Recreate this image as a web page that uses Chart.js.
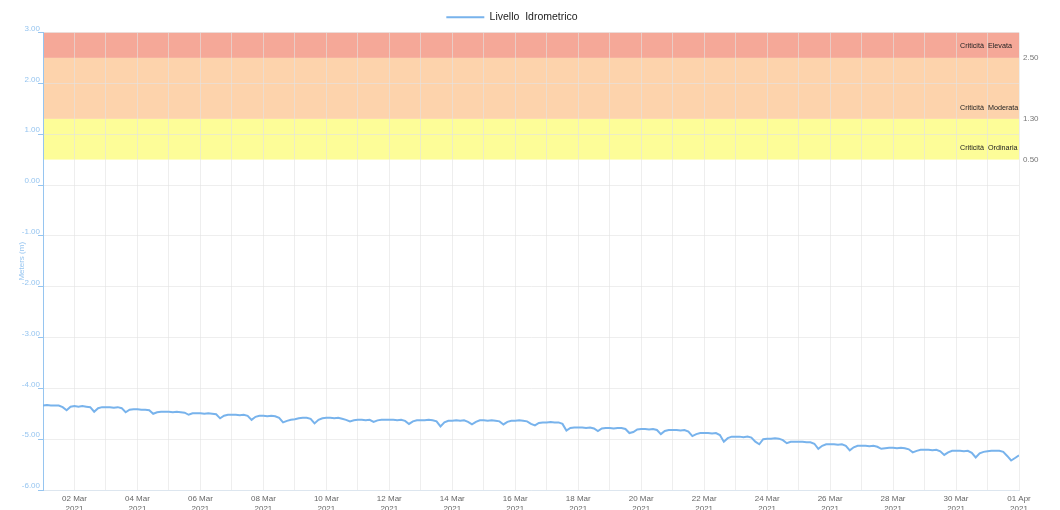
<!DOCTYPE html>
<html>
<head>
<meta charset="utf-8">
<script src="https://cdn.jsdelivr.net/npm/chart.js@4.4.0/dist/chart.umd.min.js"></script>
<style>
  html, body { margin: 0; padding: 0; background: #fff; overflow: hidden; }
  #wrap { width: 1060px; height: 516px; position: relative; }
</style>
</head>
<body>
<div id="wrap"><canvas id="Chart"></canvas></div>
<script>
// hydrometric level, one reading every 3 hours from 01 Mar 2021 00:00 to 01 Apr 2021 00:00
const seriesName = 'Livello  Idrometrico';
const stepHours = 3;
const levels = [
  -4.34, -4.33, -4.34, -4.34, -4.34, -4.37, -4.43, -4.36,
  -4.35, -4.36, -4.35, -4.36, -4.37, -4.46, -4.39, -4.37,
  -4.37, -4.37, -4.38, -4.37, -4.39, -4.47, -4.42, -4.41,
  -4.41, -4.42, -4.42, -4.43, -4.50, -4.47, -4.46, -4.46,
  -4.46, -4.47, -4.46, -4.47, -4.48, -4.52, -4.49, -4.49,
  -4.49, -4.50, -4.49, -4.50, -4.51, -4.59, -4.54, -4.52,
  -4.52, -4.52, -4.53, -4.52, -4.54, -4.62, -4.56, -4.54,
  -4.54, -4.55, -4.54, -4.55, -4.58, -4.67, -4.64, -4.62,
  -4.61, -4.59, -4.58, -4.58, -4.60, -4.69, -4.62, -4.59,
  -4.58, -4.58, -4.59, -4.58, -4.60, -4.62, -4.65, -4.63,
  -4.62, -4.62, -4.63, -4.62, -4.66, -4.63, -4.62, -4.62,
  -4.62, -4.62, -4.63, -4.62, -4.64, -4.70, -4.65, -4.63,
  -4.63, -4.63, -4.62, -4.63, -4.65, -4.75, -4.67, -4.64,
  -4.64, -4.63, -4.64, -4.63, -4.66, -4.71, -4.66, -4.63,
  -4.63, -4.64, -4.63, -4.64, -4.65, -4.71, -4.66, -4.64,
  -4.64, -4.63, -4.64, -4.65, -4.70, -4.73, -4.68, -4.67,
  -4.67, -4.66, -4.67, -4.67, -4.70, -4.83, -4.78, -4.77,
  -4.77, -4.77, -4.78, -4.77, -4.79, -4.84, -4.79, -4.78,
  -4.78, -4.79, -4.78, -4.78, -4.80, -4.88, -4.86, -4.81,
  -4.80, -4.80, -4.81, -4.80, -4.82, -4.90, -4.84, -4.82,
  -4.82, -4.82, -4.83, -4.82, -4.85, -4.94, -4.90, -4.88,
  -4.88, -4.88, -4.89, -4.88, -4.92, -5.05, -4.98, -4.95,
  -4.95, -4.95, -4.96, -4.95, -4.97, -5.05, -5.10, -5.00,
  -4.99, -4.99, -4.98, -4.99, -5.02, -5.08, -5.05, -5.05,
  -5.05, -5.05, -5.06, -5.06, -5.09, -5.19, -5.13, -5.10,
  -5.10, -5.10, -5.11, -5.10, -5.13, -5.22, -5.16, -5.13,
  -5.13, -5.13, -5.14, -5.13, -5.15, -5.19, -5.18, -5.17,
  -5.17, -5.18, -5.17, -5.18, -5.20, -5.26, -5.23, -5.21,
  -5.21, -5.21, -5.22, -5.21, -5.24, -5.31, -5.26, -5.23,
  -5.23, -5.23, -5.24, -5.23, -5.27, -5.36, -5.28, -5.25,
  -5.24, -5.23, -5.23, -5.23, -5.25, -5.33, -5.42, -5.37,
  -5.32
];
const dayLabels = [
  '01 Mar', '02 Mar', '03 Mar', '04 Mar', '05 Mar', '06 Mar', '07 Mar', '08 Mar',
  '09 Mar', '10 Mar', '11 Mar', '12 Mar', '13 Mar', '14 Mar', '15 Mar', '16 Mar',
  '17 Mar', '18 Mar', '19 Mar', '20 Mar', '21 Mar', '22 Mar', '23 Mar', '24 Mar',
  '25 Mar', '26 Mar', '27 Mar', '28 Mar', '29 Mar', '30 Mar', '31 Mar', '01 Apr'
];
const yearLabel = '2021';

// alert bands (from, to) in meters
const bandNames = ['Criticità  Elevata', 'Criticità  Moderata', 'Criticità  Ordinaria'];
const bandFrom = [2.5, 1.3, 0.5];
const bandTo = [3.0, 2.5, 1.3];
const thresholdTicks = [2.5, 1.3, 0.5];

const bandColors = ['#f5a898', '#fdd3ac', '#fdfd98'];
const bandTextAt = [2.73, 1.52, 0.73];
const lineColor = '#78b3ec';
const axisBlue = '#96c5f0';
const gridColor = 'rgba(226,226,226,0.6)';

Chart.defaults.font.family = '"Liberation Sans", Arial, sans-serif';

const bandsPlugin = {
  id: 'bands',
  beforeDraw(chart) {
    // legend sits a bit left of centre in the original
    if (chart.legend) {
      chart.legend.left = -18;
      chart.legend.right = chart.width - 18;
    }
    const c = chart.ctx, area = chart.chartArea, y = chart.scales.y;
    c.save();
    bandFrom.forEach((from, i) => {
      const top = y.getPixelForValue(bandTo[i]);
      const bottom = y.getPixelForValue(from);
      c.fillStyle = bandColors[i];
      c.fillRect(area.left, top, area.right - area.left, bottom - top);
    });
    c.restore();
  },
  afterDatasetsDraw(chart) {
    const c = chart.ctx, area = chart.chartArea, y = chart.scales.y;
    c.save();
    c.font = '7.2px "Liberation Sans", Arial, sans-serif';
    c.fillStyle = '#222';
    c.textAlign = 'left';
    c.textBaseline = 'middle';
    bandNames.forEach((name, i) => {
      c.fillText(name, area.right - 59, y.getPixelForValue(bandTextAt[i]));
    });
    c.restore();
  }
};

const ctx = document.getElementById('Chart').getContext('2d');
new Chart(ctx, {
  type: 'line',
  data: {
    datasets: [{
      label: seriesName,
      data: levels.map((v, i) => ({ x: i * stepHours, y: v })),
      borderColor: lineColor,
      backgroundColor: lineColor,
      borderWidth: 2,
      pointRadius: 0,
      tension: 0,
      fill: false
    }]
  },
  options: {
    responsive: true,
    maintainAspectRatio: false,
    animation: false,
    layout: { padding: { top: 2, left: 0, right: 0, bottom: 0 } },
    plugins: {
      tooltip: { enabled: false },
      legend: {
        display: true,
        position: 'top',
        labels: {
          boxWidth: 38,
          boxHeight: 0,
          color: '#222',
          font: { size: 10.5 },
          padding: 10
        }
      }
    },
    scales: {
      x: {
        type: 'linear',
        min: 0,
        max: (dayLabels.length - 1) * 24,
        afterFit: (s) => { s.height = 26; },
        grid: {
          color: (c) => (c.index === 0 ? 'rgba(0,0,0,0)' : gridColor),
          drawTicks: false
        },
        border: { color: '#dde6ef' },
        ticks: {
          stepSize: 24,
          maxTicksLimit: 40,
          autoSkip: false,
          maxRotation: 0,
          padding: 4,
          color: '#666',
          font: { size: 8 },
          callback: (value) => {
            const day = value / 24;
            if (day % 2 !== 1) return '';
            return [dayLabels[day], yearLabel];
          }
        }
      },
      y: {
        position: 'left',
        min: -6,
        max: 3,
        afterFit: (s) => { s.width = 43; },
        grid: { color: gridColor, tickColor: axisBlue, tickLength: 5 },
        border: { color: axisBlue },
        title: {
          display: true,
          text: 'Meters (m)',
          color: axisBlue,
          font: { size: 8 },
          padding: { top: 17, bottom: 0 }
        },
        ticks: {
          stepSize: 1,
          color: axisBlue,
          font: { size: 8 },
          padding: -2,
          labelOffset: -4,
          callback: (v) => Number(v).toFixed(2)
        }
      },
      y2: {
        position: 'right',
        min: -6,
        max: 3,
        afterFit: (s) => { s.width = 41; },
        afterBuildTicks: (s) => { s.ticks = thresholdTicks.map(v => ({ value: v })); },
        grid: { display: false, drawTicks: false },
        border: { display: false },
        ticks: {
          color: '#777',
          font: { size: 8 },
          padding: 4,
          callback: (v) => Number(v).toFixed(2)
        }
      }
    }
  },
  plugins: [bandsPlugin]
});
</script>
</body>
</html>
